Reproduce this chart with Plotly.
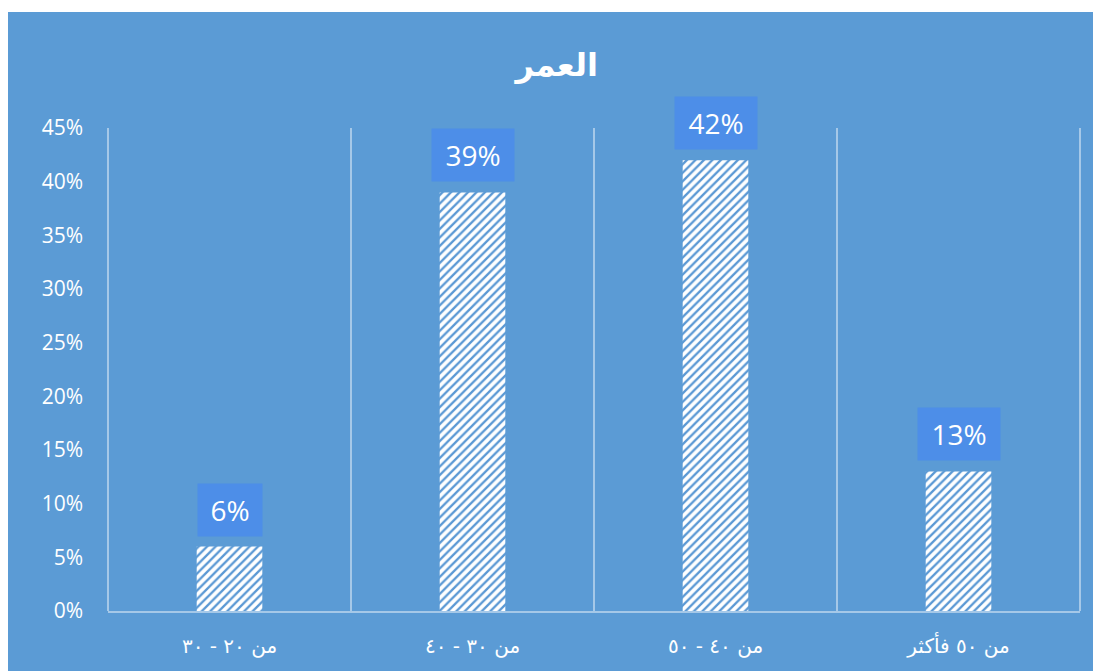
import plotly.graph_objects as go

categories = ["من ٢٠ - ٣٠", "من ٣٠ - ٤٠", "من ٤٠ - ٥٠", "من ٥٠ فأكثر"]
values = [0.06, 0.39, 0.42, 0.13]
labels = ["6%", "39%", "42%", "13%"]
title_text = "العمر"

BLUE = "#5b9bd5"
PATTERN_BLUE = "#5a98d4"
GRID = "rgba(255,255,255,0.45)"
LABEL_BG = "#4d8ee8"

fig = go.Figure()
fig.add_trace(go.Bar(
    x=categories, y=values,
    width=0.27,
    marker=dict(
        color="white",
        line=dict(width=0),
        pattern=dict(shape="/", fgcolor=PATTERN_BLUE, bgcolor="white",
                     fgopacity=1, size=6, solidity=0.38),
    ),
    hoverinfo="skip",
))

for c, v, t in zip(categories, values, labels):
    fig.add_annotation(
        x=c, y=v, text=t, showarrow=False,
        yanchor="bottom", yshift=10,
        font=dict(family="Open Sans, Noto Sans, sans-serif", size=28, color="white"),
        bgcolor=LABEL_BG, borderpad=8,
        width=18 * len(t) + 12, height=36,
    )

# page has an 8px body margin; figure coords are offset accordingly
W, H = 1093, 663
L, R, T, B = 100, 21, 120, 60
pw, ph = W - L - R, H - T - B

# blue chart area background
fig.add_shape(
    type="rect", xref="paper", yref="paper", layer="below",
    x0=-L / pw, x1=(W - L) / pw + 0.01,
    y0=-(B + 5) / ph, y1=(H - B - 4) / ph,
    fillcolor=BLUE, line=dict(width=0),
)
# outer category boundary lines
for xp in (0, 1):
    fig.add_shape(
        type="line", xref="paper", yref="paper", layer="below",
        x0=xp, x1=xp, y0=0, y1=1,
        line=dict(color=GRID, width=2),
    )

fig.update_layout(
    width=W, height=H,
    margin=dict(l=L, r=R, t=T, b=B, pad=0),
    paper_bgcolor="white",
    plot_bgcolor="rgba(0,0,0,0)",
    showlegend=False,
    title=dict(
        text="<b>" + title_text + "</b>",
        x=0.502, xanchor="center", xref="container",
        y=1 - 57 / H, yanchor="middle", yref="container",
        font=dict(family="DejaVu Sans, Noto Sans, sans-serif", size=32, color="white"),
    ),
    xaxis=dict(
        type="category",
        tickson="boundaries",
        showgrid=True, gridcolor=GRID, gridwidth=2,
        showline=True, linecolor=GRID, linewidth=2,
        ticks="", ticklabelstandoff=16,
        tickfont=dict(family="DejaVu Sans, sans-serif", size=20, color="white"),
        range=[-0.5, 3.5],
        zeroline=False,
    ),
    yaxis=dict(
        range=[0, 0.45], dtick=0.05, tickformat=".0%",
        showgrid=False, zeroline=False, showline=False,
        ticks="", ticklabelstandoff=24,
        tickfont=dict(family="Open Sans, Noto Sans, sans-serif", size=21, color="white"),
    ),
    bargap=0.73,
)

fig.write_html("out.html")
